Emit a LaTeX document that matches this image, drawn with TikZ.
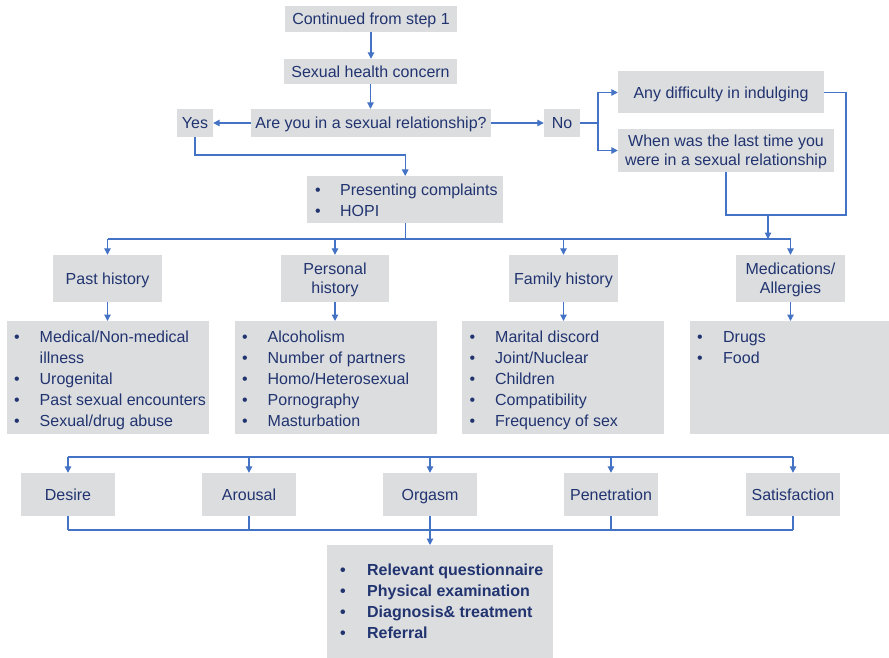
\documentclass[tikz,border=0pt]{standalone}
\usepackage{fontspec}
\setmainfont{Liberation Sans}
\usetikzlibrary{arrows.meta}

\definecolor{boxgray}{RGB}{220,221,223}
\definecolor{navy}{RGB}{33,52,112}
\definecolor{flow}{RGB}{68,114,196}

% bulleted lists inside the grey panels
\newlength\bulpos
\newlength\bulind
\newcommand\bitem[1]{\makebox[\bulind][l]{\hspace*{\bulpos}\textbullet}#1\par}
\newcommand\bcont[1]{\hspace*{\bulind}#1\par}
% #1 height, #2 width, #3 first baseline, #4 bullet offset, #5 text offset, #6 items
\newcommand\blist[6]{%
  \parbox[t][#1][t]{#2}{\setlength\parindent{0pt}\setlength\bulpos{#4}\setlength\bulind{#5}%
    \leavevmode\rule{0pt}{#3}#6}}

\tikzset{
  box/.style={fill=boxgray, text=navy, inner sep=0pt, text height=11.5pt, text depth=0pt,
    font=\fontsize{16}{19}\selectfont},
  mbox/.style={fill=boxgray, text=navy, inner sep=0pt, align=center, text depth=0pt,
    font=\fontsize{16}{19}\selectfont},
  listbox/.style={fill=boxgray, text=navy, inner sep=0pt, anchor=north west,
    font=\fontsize{16}{21}\selectfont},
  link/.style={draw=flow, line width=1.2pt},
  arr/.style={link, -{Triangle[length=6.5pt,width=6.5pt]}},
}

\begin{document}
\begin{tikzpicture}[x=1pt, y=-1pt]
\useasboundingbox (0,0) rectangle (889,658);

% upper question chain
\node[box, minimum width=172pt, minimum height=26pt] (cont) at (371,19) {Continued from step 1};
\node[box, minimum width=173pt, minimum height=25pt] (shc) at (370.5,71.5) {Sexual health concern};
\node[box, minimum width=240pt, minimum height=28pt] (q) at (371,123) {Are you in a sexual relationship?};
\node[box, minimum width=36pt, minimum height=28pt] (yes) at (195,123) {Yes};
\node[box, minimum width=36pt, minimum height=28pt] (no) at (562,123) {No};
\node[box, minimum width=206pt, minimum height=42pt] (any) at (721,92.5) {Any difficulty in indulging};
\node[mbox, minimum width=216pt, minimum height=43pt] (when) at (726,150.5)
  {When was the last time you\\were in a sexual relationship};

\node[listbox] (pres) at (307,176)
  {\blist{47pt}{196pt}{19.75pt}{8pt}{33pt}{\bitem{Presenting complaints}\bitem{HOPI}}};

% history headings
\node[box, minimum width=109pt, minimum height=47pt] (past) at (107.5,278.5) {Past history};
\node[mbox, minimum width=108pt, minimum height=47pt] (pers) at (335,278.5) {Personal\\history};
\node[box, minimum width=109pt, minimum height=47pt] (fam) at (563.5,278.5) {Family history};
\node[mbox, minimum width=109pt, minimum height=47pt] (med) at (790.5,278.5) {Medications/\\Allergies};

% history details
\node[listbox] (pastl) at (7,321)
  {\blist{113pt}{202pt}{21.5pt}{7pt}{32.5pt}{%
    \bitem{Medical/Non-medical}\bcont{illness}\bitem{Urogenital}%
    \bitem{Past sexual encounters}\bitem{Sexual/drug abuse}}};
\node[listbox] (persl) at (235,321)
  {\blist{113pt}{202pt}{21.5pt}{7pt}{32.5pt}{%
    \bitem{Alcoholism}\bitem{Number of partners}\bitem{Homo/Heterosexual}%
    \bitem{Pornography}\bitem{Masturbation}}};
\node[listbox] (faml) at (462,321)
  {\blist{113pt}{202pt}{21.5pt}{7.5pt}{33pt}{%
    \bitem{Marital discord}\bitem{Joint/Nuclear}\bitem{Children}%
    \bitem{Compatibility}\bitem{Frequency of sex}}};
\node[listbox] (medl) at (690,321)
  {\blist{113pt}{199pt}{21.5pt}{7pt}{33pt}{\bitem{Drugs}\bitem{Food}}};

% phases of the sexual response
\node[box, minimum width=94pt, minimum height=43pt] (desire) at (68,494.5) {Desire};
\node[box, minimum width=94pt, minimum height=43pt] (arousal) at (249,494.5) {Arousal};
\node[box, minimum width=94pt, minimum height=43pt] (orgasm) at (430,494.5) {Orgasm};
\node[box, minimum width=94pt, minimum height=43pt] (pen) at (611,494.5) {Penetration};
\node[box, minimum width=94pt, minimum height=43pt] (sat) at (793,494.5) {Satisfaction};

\node[listbox] (final) at (327,545)
  {\blist{113pt}{226pt}{30.75pt}{13pt}{40pt}{\fontsize{16}{20.7}\selectfont\bfseries
    \bitem{Relevant questionnaire}\bitem{Physical examination}%
    \bitem{Diagnosis\& treatment}\bitem{Referral}}};

% junction points
\coordinate (nsplit) at (598,123);
\coordinate (rloop) at (846,215);
\coordinate (join) at (768,215);
\coordinate (bus) at (pres.south |- 0,239);
\coordinate (topbus) at (430,457);
\coordinate (botbus) at (430,530);

% connectors of the question chain
\draw[arr] (cont.south) -- (cont.south |- shc.north);
\draw[arr] (shc.south) -- (shc.south |- q.north);
\draw[arr] (q.west) -- (yes.east);
\draw[arr] (q.east) -- (no.west);
\draw[arr] (yes.south) |- (pres.north |- 0,155) -- (pres.north);
\draw[link] (no.east) -- (nsplit);
\draw[arr] (nsplit) |- (any.west);
\draw[arr] (nsplit) |- (when.west);
\draw[link] (any.east) -| (rloop) -- (when.south |- rloop) -- (when.south);
\draw[arr] (join) -- (join |- bus);

% history bus
\draw[link] (pres.south) -- (bus);
\draw[link] (past.north |- bus) -- (med.north |- bus);
\foreach \n in {past,pers,fam,med}
  \draw[arr] (\n.north |- bus) -- (\n.north);
\draw[arr] (past.south) -- (past.south |- pastl.north);
\draw[arr] (pers.south) -- (pers.south |- persl.north);
\draw[arr] (fam.south) -- (fam.south |- faml.north);
\draw[arr] (med.south) -- (med.south |- medl.north);

% response phase buses
\draw[link] (desire.north |- topbus) -- (sat.north |- topbus);
\foreach \n in {desire,arousal,orgasm,pen,sat}
  \draw[arr] (\n.north |- topbus) -- (\n.north);
\draw[link] (desire.south |- botbus) -- (sat.south |- botbus);
\foreach \n in {desire,arousal,orgasm,pen,sat}
  \draw[link] (\n.south) -- (\n.south |- botbus);
\draw[arr] (botbus) -- (botbus |- final.north);
\end{tikzpicture}
\end{document}
